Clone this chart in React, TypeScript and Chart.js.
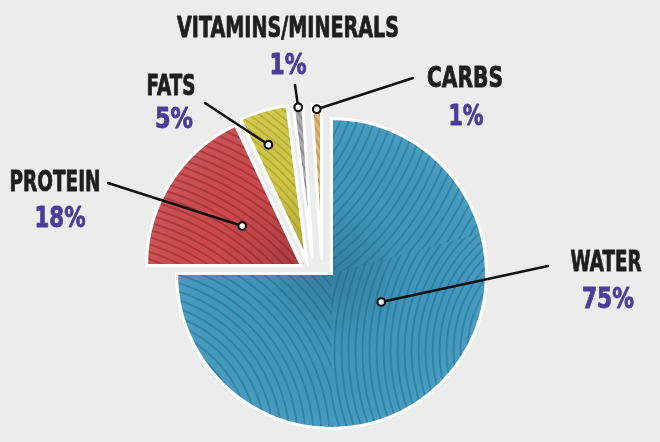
import React, { useEffect, useRef } from "react";
import { Chart, registerables } from "chart.js";

Chart.register(...registerables);

// ---- data ----
const CATEGORIES = ["WATER", "PROTEIN", "FATS", "VITAMINS/MINERALS", "CARBS"];
const VALUES = [75, 18, 5, 1, 1];
const PERCENT_LABELS = ["75%", "18%", "5%", "1%", "1%"];

// ---- styles ----
const COLORS = ["#3f97bd", "#c94a4d", "#d1c847", "#ababad", "#e4b770"];
const STRIPE_COLORS = ["#16607f", "#80191f", "#8f8716", "#5e5e60", "#a87730"];
const BG = "#ececec";
const NAME_COLOR = "#1f1f1f";
const PCT_COLOR = "#4b3c9a";

// exploded translation of each slice (px)
const EXPLODE: [number, number][] = [[0, 0], [-30, -8], [-25, -14], [-19, -15], [-10, -14]];
// anchor for each leader dot: fraction along slice angle, fraction of radius
const ANCHOR_ANGLE_FRAC = [0.444, 0.52, 0.38, 0.5, 0.5];
const ANCHOR_RADIUS_FRAC = [0.37, 0.46, 0.78, 0.98, 0.97];
// leader line outer ends
const LEADER_START: [number, number][] = [[548, 266], [108, 183], [205, 103], [295, 85], [413, 78]];
// text layout: [centerX, baselineY, width]
const NAME_POS: [number, number, number][] = [[606, 271, 71], [55, 191, 91], [171, 95, 49], [288, 37, 222], [465, 87, 76]];
const PCT_POS: [number, number, number][] = [[608, 308, 52], [60, 227, 51], [174, 128, 38], [288, 74, 37], [466, 125, 35]];
// stripe families: [cx, cy (radius units from slice tip), spacing, clipStartDeg, clipEndDeg] (deg clockwise from top)
const STRIPES: [number, number, number, number, number][][] = [
  [[-1.0, -1.4, 8, 0, 75], [-1.3, 1.1, 8, 180, 270], [1.6, 0.5, 7, 75, 180]],
  [[-1.4, 1.2, 7, 0, 360]],
  [[-1.6, 0.9, 6, 0, 360]],
  [[-2.5, 0.5, 5, 0, 360]],
  [[-2.5, 0.5, 5, 0, 360]],
];

const FONT = '"DejaVu Sans", "Liberation Sans", sans-serif';

function arcPath(ctx: CanvasRenderingContext2D, p: any) {
  ctx.beginPath();
  ctx.moveTo(p.x, p.y);
  ctx.arc(p.x, p.y, p.outerRadius, p.startAngle, p.endAngle);
  ctx.closePath();
}

const explodePlugin = {
  id: "explodeDraw",
  beforeDatasetDraw(chart: any, args: any) {
    const meta = chart.getDatasetMeta(args.index);
    const ctx: CanvasRenderingContext2D = chart.ctx;
    meta.data.forEach((arc: any, i: number) => {
      const [dx, dy] = EXPLODE[i];
      const p = arc.getProps(["x", "y", "startAngle", "endAngle", "outerRadius"], true);
      ctx.save();
      ctx.translate(dx, dy);
      arcPath(ctx, p);
      ctx.fillStyle = COLORS[i];
      ctx.fill();
      ctx.save();
      arcPath(ctx, p);
      ctx.clip();
      const g = ctx.createRadialGradient(p.x, p.y, 0, p.x, p.y, p.outerRadius);
      g.addColorStop(0, "rgba(0,0,0,0.16)");
      g.addColorStop(0.55, "rgba(0,0,0,0.0)");
      g.addColorStop(1, "rgba(255,255,255,0.06)");
      ctx.fillStyle = g;
      ctx.fillRect(p.x - p.outerRadius, p.y - p.outerRadius, p.outerRadius * 2, p.outerRadius * 2);
      ctx.strokeStyle = STRIPE_COLORS[i];
      ctx.lineWidth = 1.8;
      ctx.globalAlpha = 0.42;
      for (const s of STRIPES[i]) {
        ctx.save();
        ctx.beginPath();
        ctx.moveTo(p.x, p.y);
        ctx.arc(p.x, p.y, p.outerRadius + 5, (s[3] - 90) * Math.PI / 180, (s[4] - 90) * Math.PI / 180);
        ctx.closePath();
        ctx.clip();
        const cx = p.x + s[0] * p.outerRadius;
        const cy = p.y + s[1] * p.outerRadius;
        for (let r = s[2]; r < p.outerRadius * 4; r += s[2]) {
          ctx.beginPath();
          ctx.arc(cx, cy, r, 0, Math.PI * 2);
          ctx.stroke();
        }
        ctx.restore();
      }
      ctx.restore();
      arcPath(ctx, p);
      ctx.strokeStyle = "#ffffff";
      ctx.lineWidth = 3;
      ctx.lineJoin = "miter";
      ctx.stroke();
      ctx.restore();
    });
    return false;
  },
};

function drawFitted(ctx: CanvasRenderingContext2D, text: string, pos: [number, number, number], color: string) {
  const [cx, by, w] = pos;
  ctx.save();
  ctx.font = `bold 28px ${FONT}`;
  ctx.fillStyle = color;
  ctx.strokeStyle = color;
  ctx.lineWidth = 0.9;
  ctx.lineJoin = "round";
  ctx.textAlign = "center";
  ctx.textBaseline = "alphabetic";
  const mw = ctx.measureText(text).width;
  ctx.translate(cx, by);
  ctx.scale(w / mw, 1);
  ctx.fillText(text, 0, 0);
  ctx.strokeText(text, 0, 0);
  ctx.restore();
}

const labelPlugin = {
  id: "leaderLabels",
  afterDraw(chart: any) {
    const ctx: CanvasRenderingContext2D = chart.ctx;
    const meta = chart.getDatasetMeta(0);
    meta.data.forEach((arc: any, i: number) => {
      const p = arc.getProps(["x", "y", "startAngle", "endAngle", "outerRadius"], true);
      const [dx, dy] = EXPLODE[i];
      const a = p.startAngle + ANCHOR_ANGLE_FRAC[i] * (p.endAngle - p.startAngle);
      const r = ANCHOR_RADIUS_FRAC[i] * p.outerRadius;
      const ax = p.x + dx + Math.cos(a) * r;
      const ay = p.y + dy + Math.sin(a) * r;
      const [sx, sy] = LEADER_START[i];
      ctx.save();
      ctx.strokeStyle = "#111111";
      ctx.lineWidth = 2.5;
      ctx.lineCap = "round";
      ctx.beginPath();
      ctx.moveTo(sx, sy);
      ctx.lineTo(ax, ay);
      ctx.stroke();
      ctx.beginPath();
      ctx.arc(ax, ay, 3.8, 0, Math.PI * 2);
      ctx.fillStyle = "#ffffff";
      ctx.fill();
      ctx.lineWidth = 2.2;
      ctx.stroke();
      ctx.restore();
      drawFitted(ctx, CATEGORIES[i], NAME_POS[i], NAME_COLOR);
      drawFitted(ctx, PERCENT_LABELS[i], PCT_POS[i], PCT_COLOR);
    });
  },
};

export default function App() {
  const ref = useRef<HTMLCanvasElement | null>(null);
  useEffect(() => {
    document.body.style.margin = "0";
    document.body.style.background = BG;
    const chart = new Chart(ref.current as HTMLCanvasElement, {
      type: "pie",
      data: {
        labels: CATEGORIES,
        datasets: [
          {
            data: VALUES,
            backgroundColor: COLORS,
            borderColor: "#ffffff",
            borderWidth: 3,
          },
        ],
      },
      options: {
        animation: false,
        responsive: false,
        rotation: 0,
        layout: { padding: { left: 175, right: 172, top: 117, bottom: 12 } },
        plugins: { legend: { display: false }, tooltip: { enabled: false } },
      },
      plugins: [explodePlugin, labelPlugin],
    });
    return () => chart.destroy();
  }, []);
  return (
    <div style={{ position: "fixed", left: 0, top: 0, width: 660, height: 442, background: BG }}>
      <canvas ref={ref} width={660} height={442} />
    </div>
  );
}
